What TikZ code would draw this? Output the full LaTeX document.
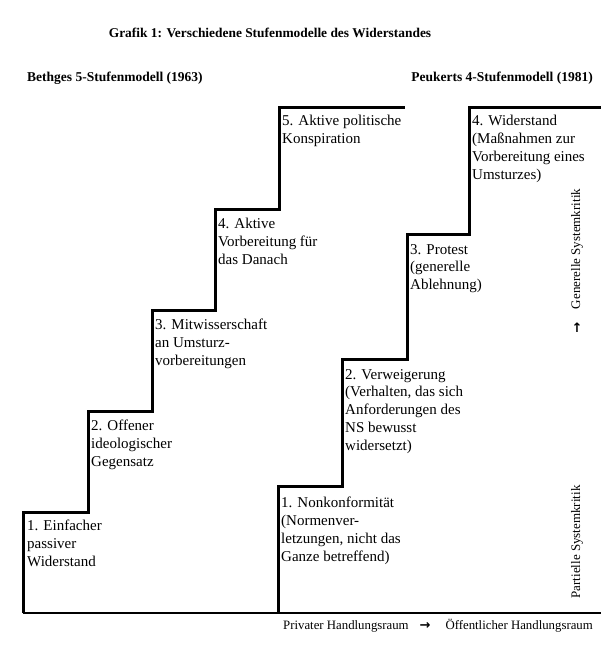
\documentclass[tikz,border=0pt]{standalone}
\usepackage{fontspec}
\setmainfont{Liberation Serif}
\newfontfamily\symfont{DejaVu Sans}
\begin{document}
\begin{tikzpicture}[x=1pt,y=-1pt,
  stair/.style={line width=3pt, line join=miter},
  base/.style={line width=1.8pt},
  steptext/.style={anchor=north west, inner sep=0pt, align=left, font=\fontsize{15}{17.8}\selectfont},
  heading/.style={inner sep=0pt, font=\bfseries\fontsize{13.5}{16}\selectfont},
  sidelabel/.style={rotate=90, inner sep=0pt, font=\fontsize{13}{15}\selectfont},
  axislabel/.style={inner sep=0pt, font=\fontsize{12.8}{15}\selectfont},
  symb/.style={inner sep=0pt, font=\symfont\bfseries\fontsize{13}{14}\selectfont}]
\useasboundingbox[fill=white] (0,0) rectangle (601,669);

% title and headings
\node[heading, font=\bfseries\fontsize{13.4}{16}\selectfont] (title) at (270,33) {Grafik 1: Verschiedene Stufenmodelle des Widerstandes};
\node[heading, anchor=west] (bethge) at (27,78) {Bethges 5-Stufenmodell (1963)};
\node[heading, anchor=east] (peukert) at (593,78) {Peukerts 4-Stufenmodell (1981)};

% base line
\draw[base] (23,613) -- (601,613);

% Bethge staircase
\draw[stair] (23,613) -- (23,512) -- (88,512) -- (88,411) -- (152,411) -- (152,310)
  -- (215,310) -- (215,209) -- (279,209) -- (279,107) -- (405,107);

% Peukert staircase
\draw[stair] (278,613) -- (278,486) -- (342,486) -- (342,359) -- (407,359) -- (407,234)
  -- (469,234) -- (469,107) -- (601,107);

% Bethge texts
\node[steptext] (b1) at (27,520) {1. Einfacher\\passiver\\Widerstand};
\node[steptext] (b2) at (91,420) {2. Offener\\ideologischer\\Gegensatz};
\node[steptext] (b3) at (155,319) {3. Mitwisserschaft\\an Umsturz-\\vorbereitungen};
\node[steptext] (b4) at (218,218) {4. Aktive\\Vorbereitung für\\das Danach};
\node[steptext] (b5) at (282,115) {5. Aktive politische\\Konspiration};

% Peukert texts
\node[steptext] (p1) at (281,497) {1. Nonkonformität\\(Normenver-\\letzungen, nicht das\\Ganze betreffend)};
\node[steptext] (p2) at (345,369) {2. Verweigerung\\(Verhalten, das sich\\Anforderungen des\\NS bewusst\\widersetzt)};
\node[steptext] (p3) at (410,244) {3. Protest\\(generelle\\Ablehnung)};
\node[steptext] (p4) at (472,115) {4. Widerstand\\(Maßnahmen zur\\Vorbereitung eines\\Umsturzes)};

% side labels
\node[sidelabel] (gen) at (577,249) {Generelle Systemkritik};
\node[symb] (uparrow) at (577,328) {↑};
\node[sidelabel] (part) at (577,542) {Partielle Systemkritik};

% bottom axis label
\node[axislabel, anchor=west] (priv) at (283,626) {Privater Handlungsraum};
\node[symb] (rarrow) at (425,626) {→};
\node[axislabel, anchor=east] (oeff) at (593,626) {Öffentlicher Handlungsraum};
\end{tikzpicture}
\end{document}
